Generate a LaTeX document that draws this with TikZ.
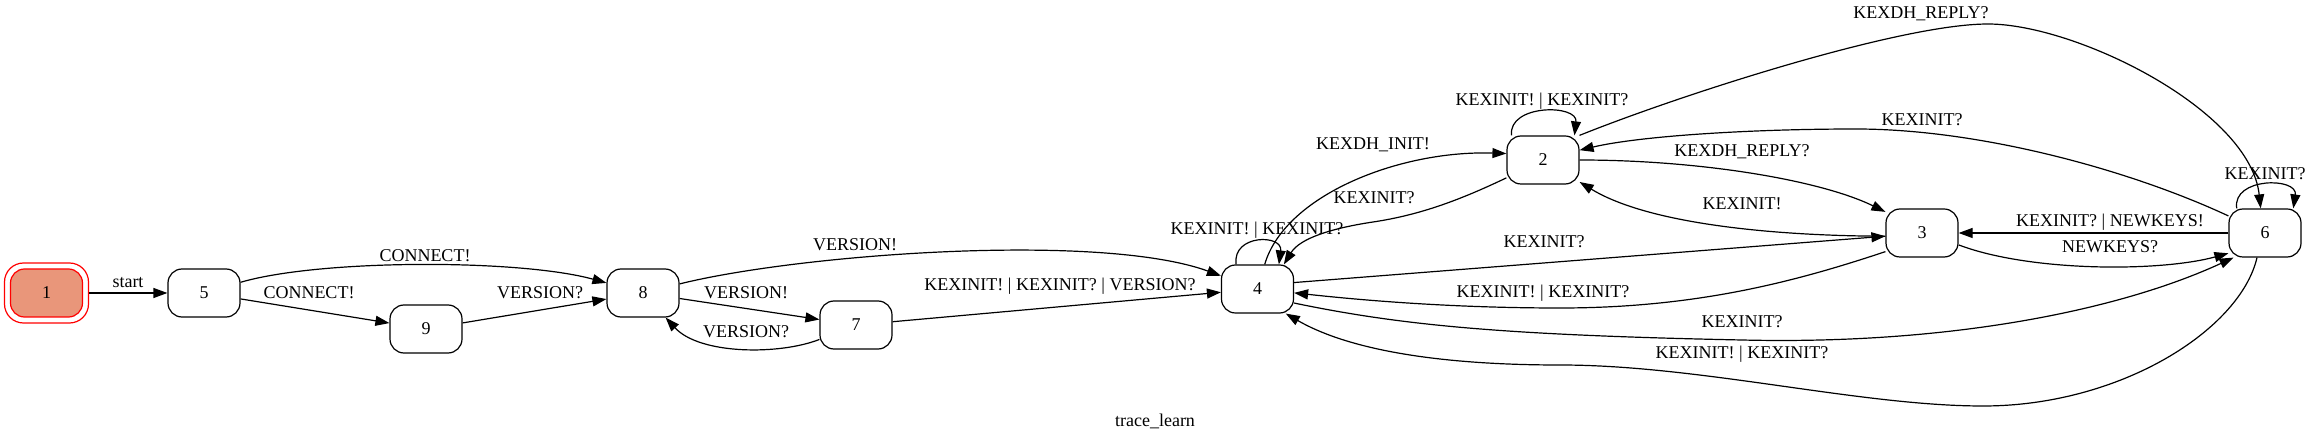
\documentclass[tikz,border=0pt]{standalone}
\usepackage{fontspec}
\setmainfont{Liberation Serif}
\usetikzlibrary{arrows.meta}
\definecolor{salmonfill}{RGB}{233,150,122}
\begin{document}
\begin{tikzpicture}[x=1pt,y=-1pt,
  every node/.style={font=\fontsize{18}{21}\selectfont},
  state/.style={draw, line width=1.2pt, rounded corners=14pt, minimum width=72pt, minimum height=48pt, inner sep=0pt},
  edge/.style={line width=1.2pt, -{Triangle[length=14pt,width=10pt]}},
  lbl/.style={inner sep=0pt}]
\useasboundingbox (0,0) rectangle (2311,443);
% states
\node[state, draw=red, fill=salmonfill] (n1) at (46.5,293) {1};
\node[draw=red, line width=1.2pt, rounded corners=19pt, minimum width=84pt, minimum height=60pt, inner sep=0pt] (n1o) at (46.5,293) {};
\node[state] (n5) at (204,293) {5};
\node[state] (n9) at (426,329) {9};
\node[state] (n8) at (643,293) {8};
\node[state] (n7) at (856,325) {7};
\node[state] (n4) at (1257.5,289) {4};
\node[state] (n2) at (1543,160) {2};
\node[state] (n3) at (1922,233) {3};
\node[state] (n6) at (2265,233) {6};
% edges
\draw[edge] (n1o) -- (n5);
\draw[edge] (n5) .. controls (320,259) and (520,259) .. (n8);
\draw[edge] (n5) -- (n9);
\draw[edge] (n9) -- (n8);
\draw[edge] (n8) .. controls (800,254) and (1100,232) .. (n4);
\draw[edge] (n8) -- (n7);
\draw[edge] (n7) .. controls (780,355) and (700,355) .. (n8);
\draw[edge] (n7) -- (n4);
\draw[edge] (n4.131) .. controls (1232,234) and (1283,234) .. (n4.49);
\draw[edge] (n4) .. controls (1285,195) and (1400,150) .. (n2.170);
\draw[edge] (n2.206) .. controls (1460,200) and (1420,215) .. (1373,222) .. controls (1333,228) and (1300,238) .. (n4.43);
\draw[edge] (n2.142) .. controls (1508,104) and (1578,104) .. (n2.38);
\draw[edge] (n2.0) .. controls (1700,160) and (1820,180) .. (n3.150);
\draw[edge] (n3.185) .. controls (1780,236) and (1650,225) .. (n2.329);
\draw[edge] (n4.10) -- (n3.185);
\draw[edge] (n3.207) .. controls (1800,280) and (1700,308) .. (1560,308) .. controls (1450,308) and (1360,300) .. (n4.354);
\draw[edge] (n4.339) .. controls (1400,325) and (1500,335) .. (1742,340) .. controls (1950,345) and (2120,310) .. (n6.218);
\draw[edge] (n6.252) .. controls (2240,330) and (2120,406) .. (1983,406) .. controls (1860,406) and (1700,365) .. (1560,365) .. controls (1420,365) and (1340,345) .. (n4.319);
\draw[edge] (n3.342) .. controls (2030,272) and (2160,272) .. (n6.209);
\draw[edge] (n6) -- (n3);
\draw[edge] (n6.139) .. controls (2232,177) and (2298,177) .. (n6.41);
\draw[edge] (n2.34) .. controls (1680,95) and (1900,24) .. (1988,24) .. controls (2076,24) and (2250,110) .. (n6.100);
\draw[edge] (n6.155) .. controls (2130,170) and (1980,129) .. (1856,129) .. controls (1750,129) and (1640,136) .. (n2.15);
% labels
\node[lbl] (l15) at (128,283) {start};
\node[lbl] (l58) at (425,256) {CONNECT!};
\node[lbl] (l59) at (309,293) {CONNECT!};
\node[lbl] (l98) at (540,293) {VERSION?};
\node[lbl] (l84) at (855,245) {VERSION!};
\node[lbl] (l87) at (746,293) {VERSION!};
\node[lbl] (l78) at (746,332) {VERSION?};
\node[lbl] (l74) at (1060,286) {KEXINIT! | KEXINIT? | VERSION?};
\node[lbl] (l44) at (1257,230) {KEXINIT! | KEXINIT?};
\node[lbl] (l42) at (1373,145) {KEXDH\_INIT!};
\node[lbl] (l24) at (1374,198) {KEXINIT?};
\node[lbl] (l22) at (1542,101) {KEXINIT! | KEXINIT?};
\node[lbl] (l23) at (1742,152) {KEXDH\_REPLY?};
\node[lbl] (l32) at (1742,204) {KEXINIT!};
\node[lbl] (l43) at (1544,242) {KEXINIT?};
\node[lbl] (l34) at (1543,293) {KEXINIT! | KEXINIT?};
\node[lbl] (l46) at (1742,322) {KEXINIT?};
\node[lbl] (l64) at (1742,354) {KEXINIT! | KEXINIT?};
\node[lbl] (l36) at (2110,247) {NEWKEYS?};
\node[lbl] (l63) at (2110,222) {KEXINIT? | NEWKEYS!};
\node[lbl] (l66) at (2265,174) {KEXINIT?};
\node[lbl] (l26) at (1921,14) {KEXDH\_REPLY?};
\node[lbl] (l62) at (1922,120) {KEXINIT?};
\node[lbl] (cap) at (1155,421) {trace\_learn};
\end{tikzpicture}
\end{document}
